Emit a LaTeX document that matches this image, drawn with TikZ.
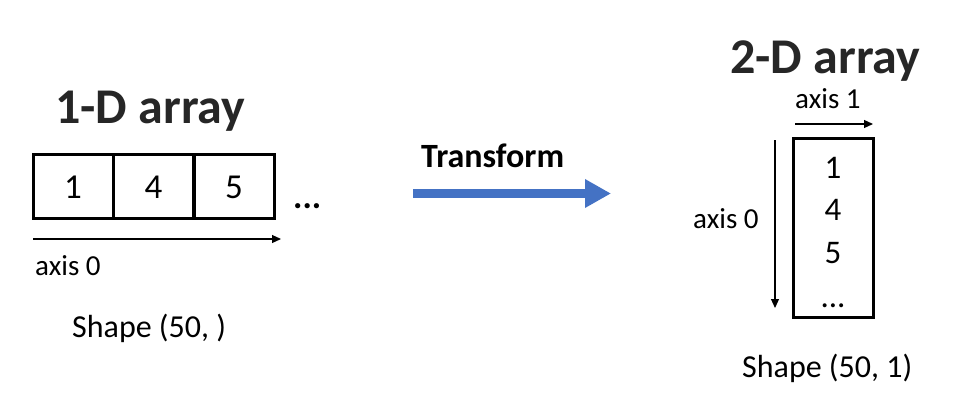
\documentclass[tikz,border=0pt]{standalone}
\usepackage{fontspec}
\setmainfont{Carlito}
\usetikzlibrary{arrows.meta}
\definecolor{officeblue}{HTML}{4472C4}
\tikzset{
  title/.style={inner sep=0pt, anchor=base west, font=\fontsize{50}{54}\selectfont\bfseries, text=black!85},
  lbl/.style={inner sep=0pt, anchor=base west, font=\fontsize{29}{32}\selectfont},
  shapelbl/.style={inner sep=0pt, anchor=base west, font=\fontsize{32}{36}\selectfont},
  num/.style={inner sep=0pt, anchor=base, font=\fontsize{35}{38}\selectfont},
  vnum/.style={inner sep=0pt, anchor=base, font=\fontsize{33}{36}\selectfont},
  cell/.style={draw, line width=3pt, minimum width=80pt, minimum height=64pt, inner sep=0pt},
  axisarrow/.style={line width=1.2pt, -{Triangle[length=9pt,width=8pt]}},
}
\begin{document}
\begin{tikzpicture}[x=1pt,y=-1pt]
\useasboundingbox (0,0) rectangle (958,402);
% 1-D array
\node[title] (t1) at (55,123) {1-D array};
\node[cell] (c1) at (73,186.5) {};
\node[cell] (c2) at (153.5,186.5) {};
\node[cell] (c3) at (234,186.5) {};
\node[num] (n1) at (73,198) {1};
\node[num] (n2) at (153.5,198) {4};
\node[num] (n3) at (234,198) {5};
\node[inner sep=0pt, anchor=base west, font=\fontsize{35}{38}\selectfont\bfseries] (dots1) at (293,208) {...};
\coordinate (a0s) at (33,239);
\coordinate (a0e) at (281,239);
\draw[axisarrow] (a0s) -- (a0e);
\node[lbl] (ax0) at (35,275) {axis 0};
\node[shapelbl] (s1) at (72,337) {Shape (50, )};
% Transform
\node[inner sep=0pt, anchor=base west, font=\fontsize{34}{38}\selectfont\bfseries] (tr) at (421,167) {Transform};
\coordinate (bs) at (413,193.5);
\coordinate (be) at (611,193.5);
\draw[officeblue, line width=9pt, -{Triangle[length=26pt,width=27pt]}] (bs) -- (be);
% 2-D array
\node[title] (t2) at (730,73) {2-D array};
\node[lbl] (ax1) at (795,108) {axis 1};
\coordinate (a1s) at (795,124);
\coordinate (a1e) at (873,124);
\draw[axisarrow] (a1s) -- (a1e);
\node[draw, line width=3pt, minimum width=80pt, minimum height=179pt, inner sep=0pt] (vbox) at (833,227.5) {};
\node[vnum] (v1) at (833,178) {1};
\node[vnum] (v2) at (833,220) {4};
\node[vnum] (v3) at (833,263) {5};
\node[vnum] (v4) at (833,307) {...};
\coordinate (a2s) at (775,140);
\coordinate (a2e) at (775,308);
\draw[axisarrow] (a2s) -- (a2e);
\node[lbl] (ax2) at (693,228) {axis 0};
\node[shapelbl] (s2) at (742,377) {Shape (50, 1)};
\end{tikzpicture}
\end{document}
